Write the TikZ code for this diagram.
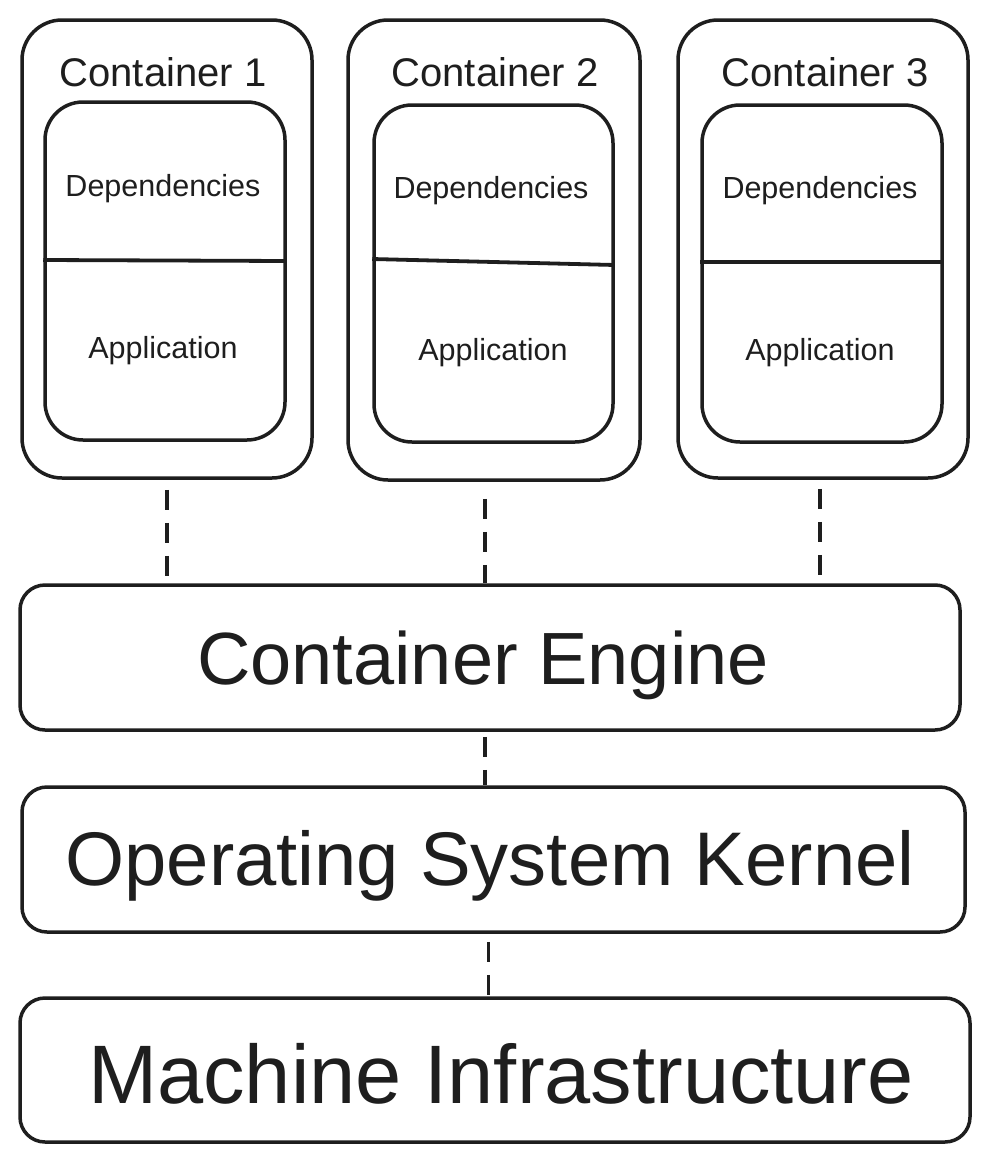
\documentclass[tikz,border=0pt]{standalone}
\usepackage{fontspec}
\setmainfont{Liberation Sans}
\usetikzlibrary{calc}
\definecolor{ink}{HTML}{1E1E1E}
\begin{document}
\begin{tikzpicture}[x=1pt,y=-1pt,
  box/.style={draw=ink, line width=3.5pt, rounded corners=#1, inner sep=0pt, minimum width=0pt, minimum height=0pt},
  conn/.style={draw=ink, line width=3.2pt, dash pattern=on 20pt off 13pt},
  divline/.style={draw=ink, line width=3.8pt},
  ctitle/.style={text=ink, font=\fontsize{40}{42}\selectfont},
  small/.style={text=ink, font=\fontsize{30.5}{32}\selectfont},
  big/.style={text=ink, font=\fontsize{#1}{#1}\selectfont}]
\useasboundingbox[fill=white] (0,0) rectangle (990,1162);
% containers
\node[box=40pt, minimum width=290pt, minimum height=458pt] (c1) at (167,249) {};
\node[box=40pt, minimum width=292pt, minimum height=460pt] (c2) at (494,250) {};
\node[box=40pt, minimum width=290pt, minimum height=458pt] (c3) at (823,249) {};
% inner boxes
\node[box=38pt, minimum width=240pt, minimum height=338pt] (i1) at (165,271) {};
\node[box=38pt, minimum width=239pt, minimum height=337pt] (i2) at (493.5,273.5) {};
\node[box=38pt, minimum width=240pt, minimum height=337pt] (i3) at (822,273.5) {};
% dividers
\draw[divline] (i1.west |- 0,260) -- (i1.east |- 0,261);
\draw[divline] (i2.west |- 0,259) -- (i2.east |- 0,265);
\draw[divline] (i3.west |- 0,262) -- (i3.east |- 0,262);
% titles
\node[ctitle] (t1) at (163,72) {Container 1};
\node[ctitle] (t2) at (495,72) {Container 2};
\node[ctitle] (t3) at (825,72) {Container 3};
\node[small] (d1) at (163,189) {Dependencies};
\node[small] (d2) at (491,191) {Dependencies};
\node[small] (d3) at (820,191) {Dependencies};
\node[small] (a1) at (163,351) {Application};
\node[small] (a2) at (493,353) {Application};
\node[small] (a3) at (820,353) {Application};
% layers
\node[box=25pt, minimum width=940pt, minimum height=145pt] (eng) at (490,657.5) {};
\node[box=25pt, minimum width=943pt, minimum height=145pt] (ker) at (493.5,859.5) {};
\node[box=25pt, minimum width=950pt, minimum height=144pt] (mac) at (495,1070) {};
\node[big=74] (engt) at (483,665) {Container Engine};
\node[big=76] (kert) at (490,866) {Operating System Kernel};
\node[big=83] (mact) at (501,1074) {Machine Infrastructure};
% connectors
\draw[conn] ($(c1.south)+(0,10)$) -- (c1.south |- eng.north);
\draw[conn] ($(c2.south)+(-9,17)$) -- ($(c2.south |- eng.north)+(-9,0)$);
\draw[conn] ($(c3.south)+(-3,9)$) -- ($(c3.south |- eng.north)+(-3,0)$);
\draw[conn] ($(eng.south)+(-5,5)$) -- ($(eng.south |- ker.north)+(-5,0)$);
\draw[conn] ($(ker.south)+(-5,8)$) -- ($(ker.south |- mac.north)+(-5,0)$);
\end{tikzpicture}
\end{document}
